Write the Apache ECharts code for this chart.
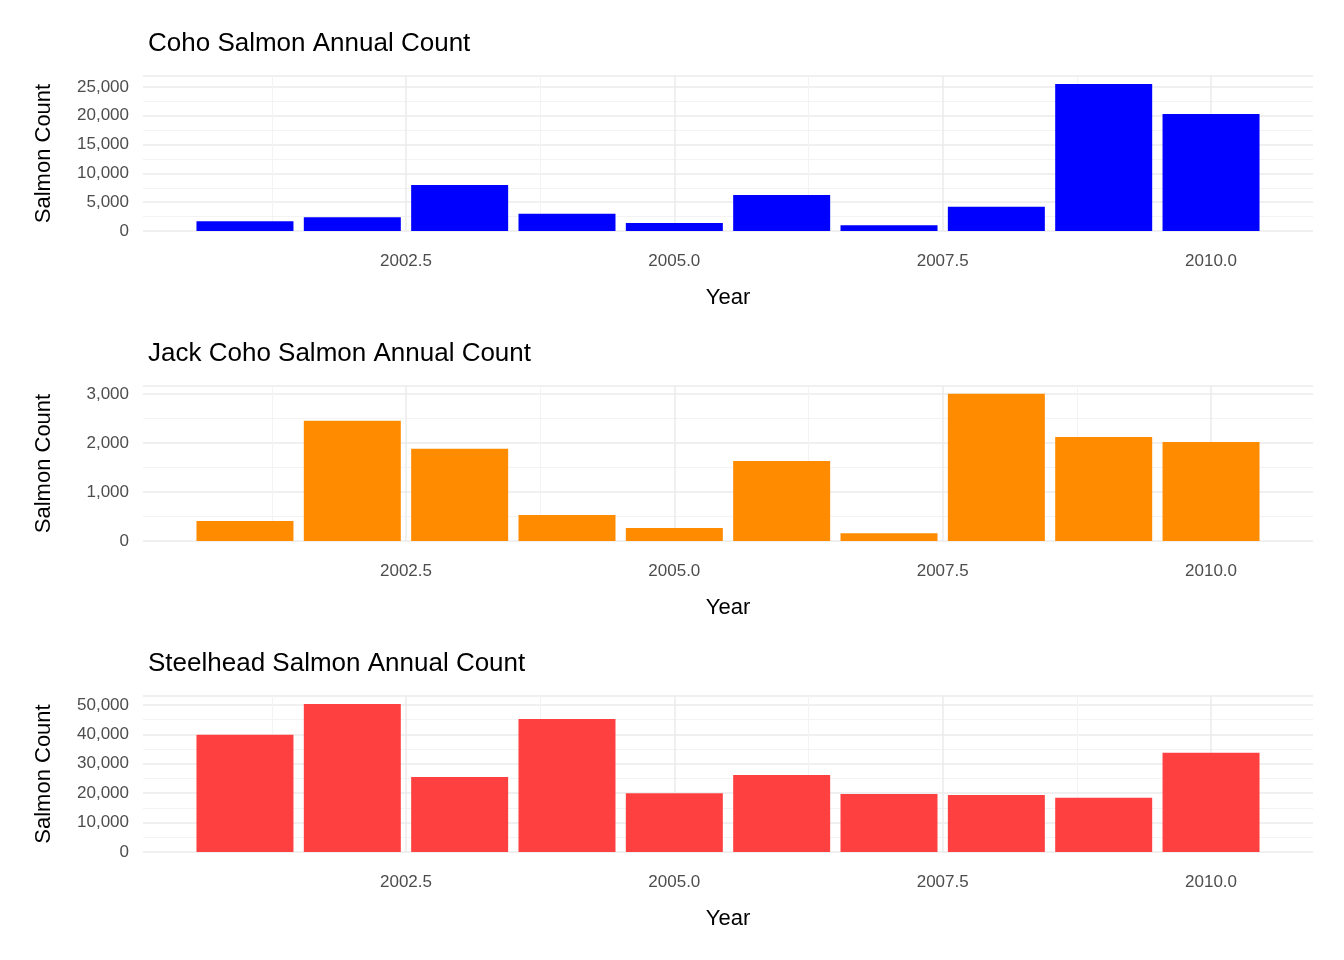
<!DOCTYPE html>
<html>
<head>
<meta charset="utf-8">
<script src="https://cdn.jsdelivr.net/npm/echarts@6/dist/echarts.min.js"></script>
<style>html,body{margin:0;background:#fff}#c{width:1344px;height:960px}</style>
</head>
<body>
<div id="c"></div>
<script>
// years and counts
const years = [2001, 2002, 2003, 2004, 2005, 2006, 2007, 2008, 2009, 2010];
const cohoCounts = [1700, 2400, 8000, 3000, 1400, 6250, 1000, 4200, 25500, 20300];
const jackCohoCounts = [410, 2450, 1880, 530, 265, 1630, 160, 3000, 2120, 2020];
const steelheadCounts = [39800, 50300, 25500, 45200, 20000, 26200, 19700, 19400, 18400, 33700];
const xTicks = [2002.5, 2005, 2007.5, 2010];
const xMinor = [2001.25, 2003.75, 2006.25, 2008.75];

const panels = [
  {title: 'Coho Salmon Annual Count', data: cohoCounts, color: '#0000FF', top: 76, height: 155, max: 26900, interval: 5000},
  {title: 'Jack Coho Salmon Annual Count', data: jackCohoCounts, color: '#FF8C00', top: 386, height: 155, max: 3160, interval: 1000},
  {title: 'Steelhead Salmon Annual Count', data: steelheadCounts, color: '#FF4040', top: 696, height: 156, max: 53000, interval: 10000}
];

const chart = echarts.init(document.getElementById('c'));
const font = 'Liberation Sans, Arial, sans-serif';
const option = {title: [], grid: [], xAxis: [], yAxis: [], series: [], animation: false};

panels.forEach((p, i) => {
  option.title.push({text: p.title, left: 143, top: p.top - 50,
    textStyle: {fontFamily: font, fontSize: 26, fontWeight: 'normal', color: '#000'}});
  option.grid.push({left: 143, right: 31, top: p.top, height: p.height});
  option.xAxis.push({type: 'value', gridIndex: i, min: 2000.05, max: 2010.95,
    name: 'Year', nameLocation: 'middle', nameGap: 56,
    nameTextStyle: {fontFamily: font, fontSize: 22, color: '#000'},
    axisLine: {show: false},
    axisTick: {show: false, customValues: xTicks},
    axisLabel: {customValues: xTicks, margin: 22, fontFamily: font, fontSize: 17, color: '#4d4d4d',
      formatter: v => v.toFixed(1)},
    splitLine: {show: true, lineStyle: {color: '#ebebeb', width: 1.5}}});
  option.yAxis.push({type: 'value', gridIndex: i, min: 0, max: p.max, interval: p.interval,
    name: 'Salmon Count', nameLocation: 'middle', nameGap: 88,
    nameTextStyle: {fontFamily: font, fontSize: 22, color: '#000'},
    axisLine: {show: false}, axisTick: {show: false},
    axisLabel: {margin: 14, fontFamily: font, fontSize: 17, color: '#4d4d4d',
      showMaxLabel: false},
    minorTick: {show: false, splitNumber: 2},
    splitLine: {lineStyle: {color: '#ebebeb', width: 1.5}},
    minorSplitLine: {show: true, lineStyle: {color: '#f3f3f3', width: 1}}});
  option.series.push({type: 'bar', xAxisIndex: i, yAxisIndex: i, barWidth: 97,
    itemStyle: {color: p.color},
    data: years.map((y, k) => [y, p.data[k]]),
    markLine: {silent: true, symbol: 'none', label: {show: false},
      lineStyle: {color: '#f3f3f3', width: 1, type: 'solid'},
      data: xMinor.map(x => ({xAxis: x})), z: 0}});
});
chart.setOption(option);
</script>
</body>
</html>
